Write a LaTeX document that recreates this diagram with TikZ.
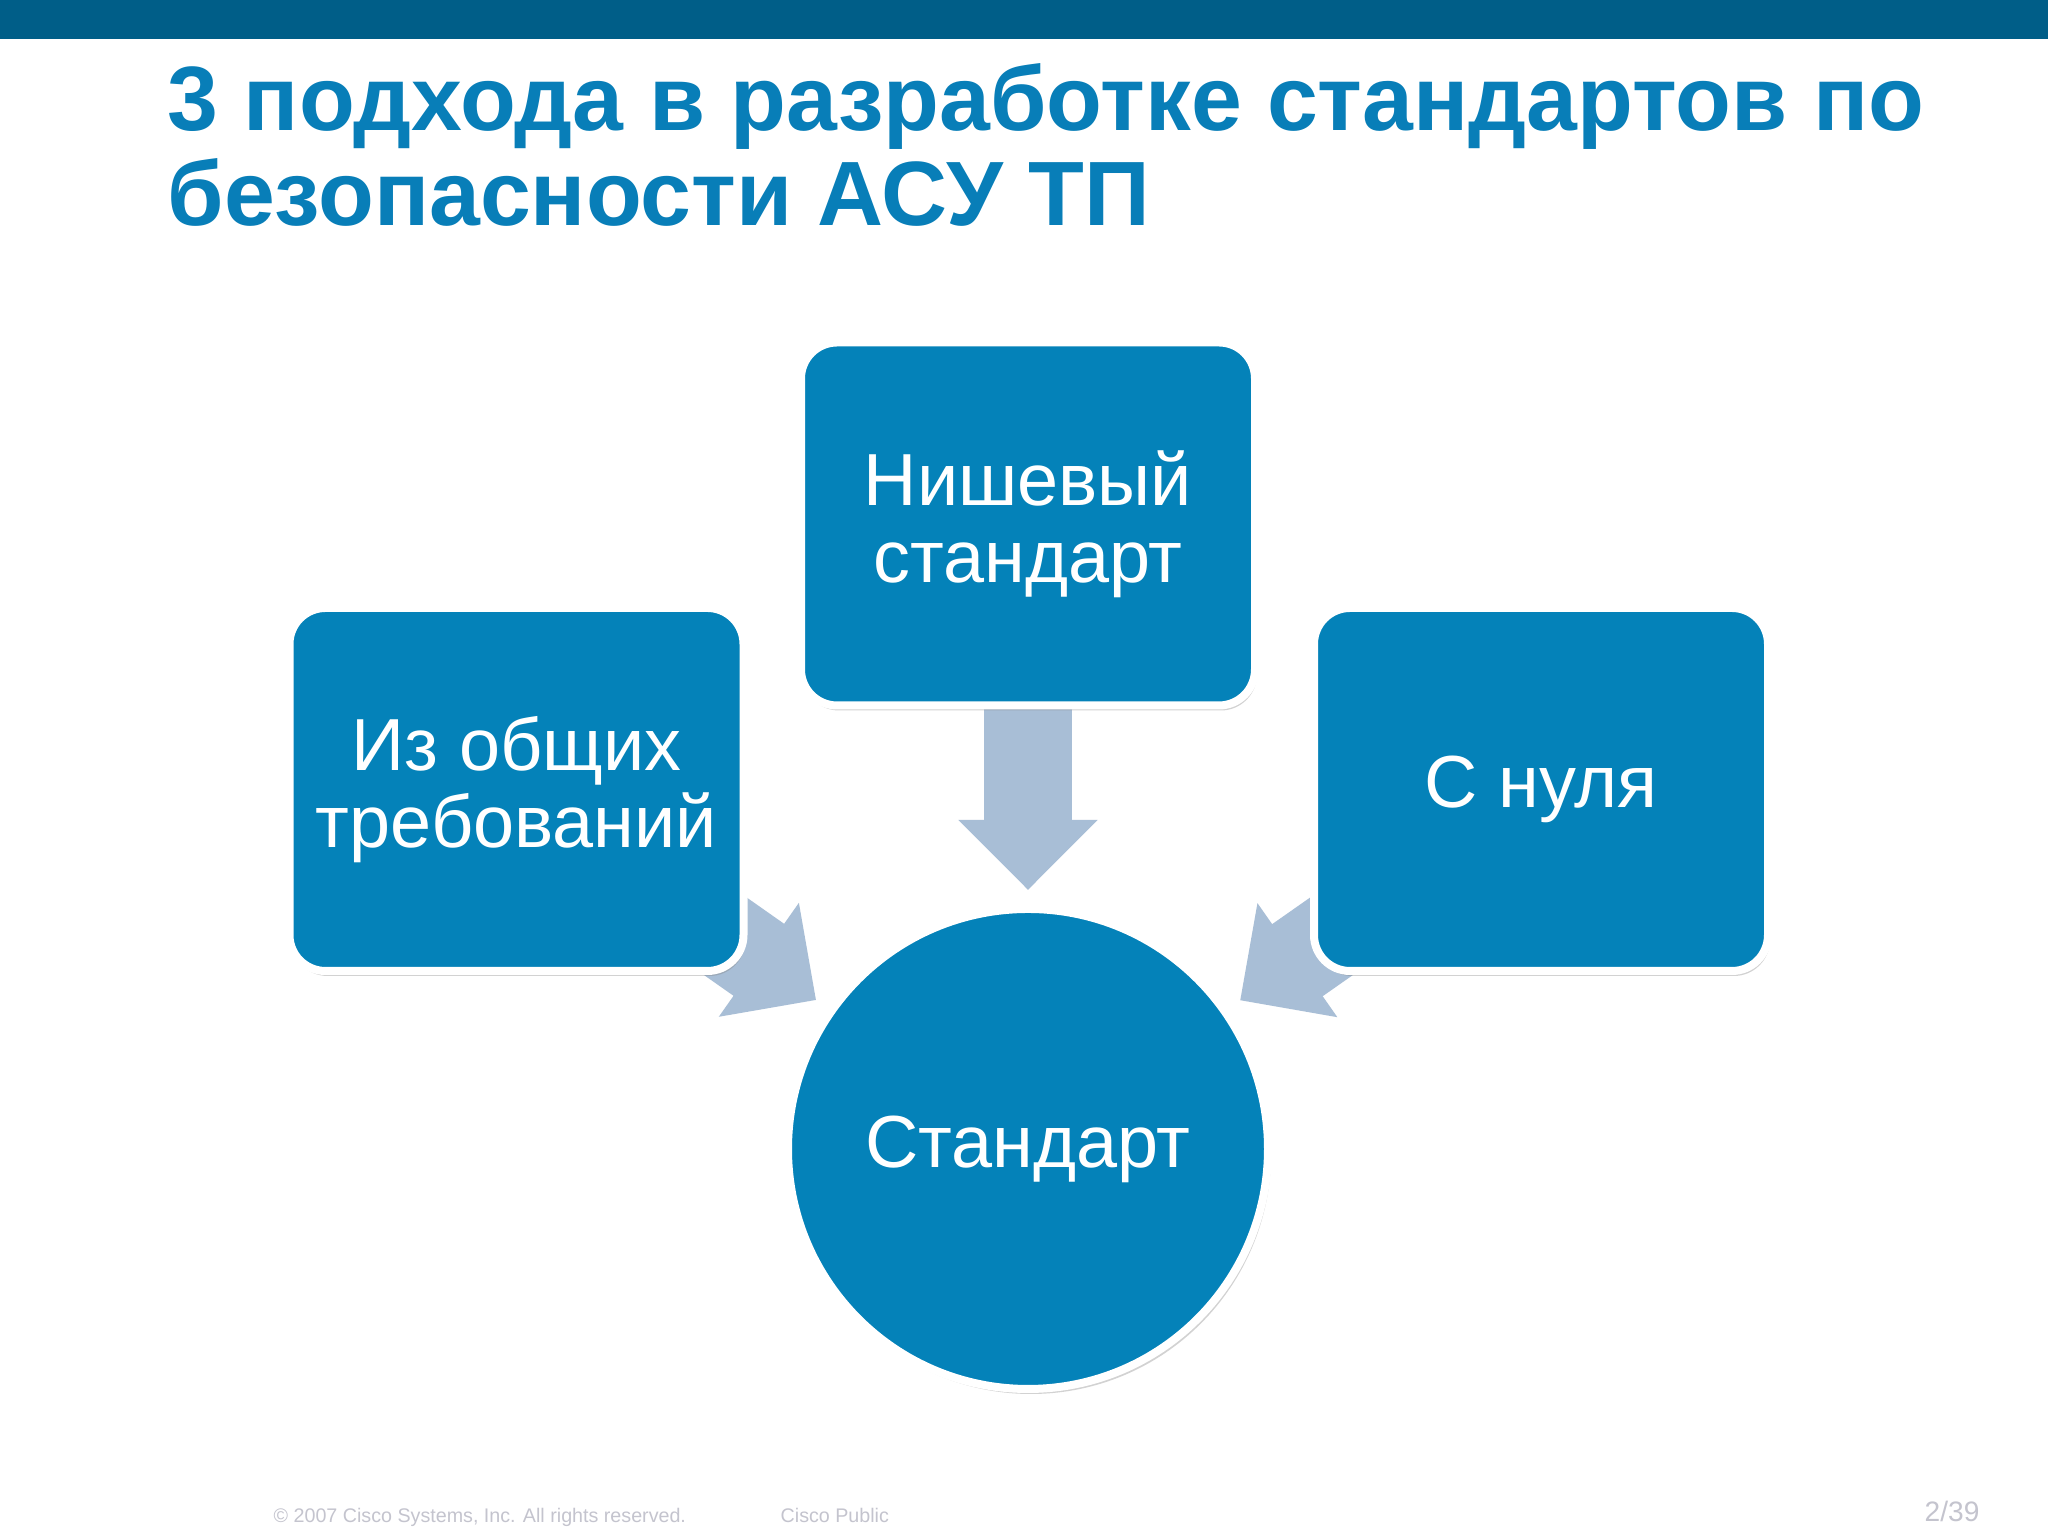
\documentclass[tikz,border=0pt]{standalone}
\usepackage{fontspec}
\setmainfont{Liberation Sans}
\usetikzlibrary{positioning, arrows.meta, backgrounds, shadows}
\definecolor{barcolor}{RGB}{0,94,136}
\definecolor{ttlcolor}{RGB}{8,126,184}
\definecolor{boxcolor}{RGB}{4,130,185}
\definecolor{arrcolor}{RGB}{168,190,214}
\definecolor{footcolor}{RGB}{196,196,206}

\begin{document}
\begin{tikzpicture}[
  % --- Styles ---
  mbox/.style={
    rectangle, rounded corners=0.36cm, draw=white, fill=boxcolor,
    line width=0.08cm, minimum width=4.54cm, minimum height=3.63cm,
    align=center, text=white, font=\fontsize{21}{22}\selectfont,
    drop shadow={shadow xshift=0.02cm, shadow yshift=-0.05cm, opacity=0.35}},
  stdcirc/.style={
    circle, draw=white, fill=boxcolor, line width=0.08cm, minimum size=4.8cm,
    text=white, font=\fontsize{21}{22}\selectfont,
    drop shadow={shadow xshift=0.03cm, shadow yshift=-0.05cm, opacity=0.35}},
  blkarr/.style={
    arrcolor, line width=0.88cm,
    -{Triangle[width=1.35cm, length=0.7cm]}, shorten >=2.59cm},
  ttl/.style={anchor=base west, inner sep=0pt, text=ttlcolor,
    font=\fontsize{26}{26}\selectfont\bfseries},
  foot/.style={anchor=base west, inner sep=0pt, text=footcolor,
    font=\fontsize{5.6}{6}\selectfont},
]
% === PAGE ===
\useasboundingbox (0,0) rectangle (20.48,15.36);
\fill[barcolor] (0,14.97) rectangle (20.48,15.36);
% === TITLE ===
\node[ttl] (ttl1) at (1.67,14.05) {3 подхода в разработке стандартов по};
\node[ttl] (ttl2) at (1.67,13.10) {безопасности АСУ ТП};
% === NODES ===
% Result
\node[stdcirc] (std) at (10.28,3.87) {Стандарт};
% Three approaches
\node[mbox, on grid, above=6.25cm of std] (nis) {Нишевый\\стандарт};
\node[mbox, on grid, below left=2.655cm and 5.115cm of nis] (gen) {Из общих\\требований};
\node[mbox, on grid, below right=2.655cm and 5.13cm of nis] (zero) {С нуля};
% === ARROWS ===
\begin{scope}[on background layer]
\fill[white] (0,0) rectangle (20.48,14.97);
\draw[blkarr] (nis.center) -- (std.center);
\draw[blkarr] (gen.center) -- (std.center);
\draw[blkarr] (zero.center) -- (std.center);
\end{scope}
% === FOOTER ===
\node[foot] (copy) at (2.73,0.13) {© 2007 Cisco Systems, Inc. All rights reserved.};
\node[foot] (pub) at (7.80,0.13) {Cisco Public};
\node[foot, font=\fontsize{8}{9}\selectfont] (pg) at (19.24,0.14) {2/39};
\end{tikzpicture}
\end{document}
